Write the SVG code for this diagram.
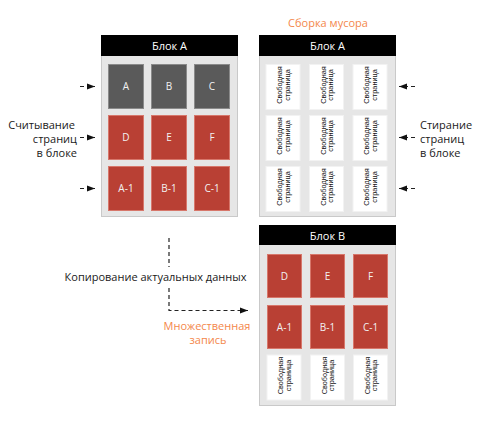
<svg xmlns="http://www.w3.org/2000/svg" width="482" height="425" viewBox="0 0 482 425">
<style>
.body{fill:#e6e6e6;stroke:#c9c9c9;stroke-width:1}
.hdr{fill:#000}
.htxt{font-family:"Open Sans",sans-serif;font-size:11px;fill:#fff;text-anchor:middle}
.gray{fill:#5a5a5a;stroke:#8a8a8a;stroke-width:1}
.red{fill:#b94034;stroke:#d7776b;stroke-width:1}
.free{fill:#fff;stroke:#f2f2f2;stroke-width:1}
.ctxt{font-family:"Open Sans",sans-serif;font-size:10px;fill:#f2f2f2;text-anchor:middle}
.ftxt{font-family:"Liberation Sans",Arial,sans-serif;font-size:7.3px;fill:#111;text-anchor:middle}
.lbl{font-family:"Open Sans",sans-serif;font-size:11px;fill:#1a1a1a}
.org{font-family:"Open Sans",sans-serif;font-size:11px;fill:#f4874b;text-anchor:middle}
.dash{fill:none;stroke:#222;stroke-width:1.2;stroke-dasharray:4,3}
</style>
<defs>
<marker id="ah" markerUnits="userSpaceOnUse" markerWidth="8" markerHeight="8" viewBox="0 0 8 8" refX="8" refY="4" orient="auto">
<path d="M0,1 L8,4 L0,7 Z" fill="#111"/>
</marker>
<g id="fp">
<rect class="free" x="-17" y="-22.5" width="34" height="45"/>
<g transform="rotate(-90)">
<text class="ftxt" x="2" y="-1">Свободная</text>
<text class="ftxt" x="2" y="6.5">страница</text>
</g>
</g>
</defs>

<g id="blockA-left">
<rect class="body" x="101.5" y="35.5" width="136" height="181"/>
<rect class="hdr" x="101" y="35" width="137" height="21"/>
<text class="htxt" x="169.5" y="50">Блок А</text>
<rect class="gray" x="108.5" y="64.5" width="35" height="44"/>
<rect class="gray" x="151.5" y="64.5" width="35" height="44"/>
<rect class="gray" x="194.5" y="64.5" width="35" height="44"/>
<rect class="red" x="108.5" y="115.5" width="35" height="44"/>
<rect class="red" x="151.5" y="115.5" width="35" height="44"/>
<rect class="red" x="194.5" y="115.5" width="35" height="44"/>
<rect class="red" x="108.5" y="166.5" width="35" height="44"/>
<rect class="red" x="151.5" y="166.5" width="35" height="44"/>
<rect class="red" x="194.5" y="166.5" width="35" height="44"/>
<text class="ctxt" x="126" y="90">A</text>
<text class="ctxt" x="169" y="90">B</text>
<text class="ctxt" x="212" y="90">C</text>
<text class="ctxt" x="126" y="141">D</text>
<text class="ctxt" x="169" y="141">E</text>
<text class="ctxt" x="212" y="141">F</text>
<text class="ctxt" x="126" y="192">A-1</text>
<text class="ctxt" x="169" y="192">B-1</text>
<text class="ctxt" x="212" y="192">C-1</text>
</g>

<g id="blockA-right">
<rect class="body" x="259.5" y="35.5" width="136" height="181"/>
<rect class="hdr" x="259" y="35" width="137" height="21"/>
<text class="htxt" x="327.5" y="50">Блок А</text>
<use href="#fp" x="283" y="87"/>
<use href="#fp" x="326.5" y="87"/>
<use href="#fp" x="370" y="87"/>
<use href="#fp" x="283" y="138"/>
<use href="#fp" x="326.5" y="138"/>
<use href="#fp" x="370" y="138"/>
<use href="#fp" x="283" y="189"/>
<use href="#fp" x="326.5" y="189"/>
<use href="#fp" x="370" y="189"/>
</g>

<g id="blockB">
<rect class="body" x="259.5" y="225.5" width="136" height="180"/>
<rect class="hdr" x="259" y="225" width="137" height="20"/>
<text class="htxt" x="327.5" y="239.5">Блок В</text>
<rect class="red" x="267.5" y="254.5" width="34" height="43"/>
<rect class="red" x="310.5" y="254.5" width="34" height="43"/>
<rect class="red" x="353.5" y="254.5" width="34" height="43"/>
<rect class="red" x="267.5" y="305.5" width="34" height="43"/>
<rect class="red" x="310.5" y="305.5" width="34" height="43"/>
<rect class="red" x="353.5" y="305.5" width="34" height="43"/>
<text class="ctxt" x="284.5" y="280">D</text>
<text class="ctxt" x="327.5" y="280">E</text>
<text class="ctxt" x="370.5" y="280">F</text>
<text class="ctxt" x="284.5" y="331">A-1</text>
<text class="ctxt" x="327.5" y="331">B-1</text>
<text class="ctxt" x="370.5" y="331">C-1</text>
<use href="#fp" x="284" y="377.5"/>
<use href="#fp" x="327.5" y="377.5"/>
<use href="#fp" x="370.5" y="377.5"/>
</g>

<g id="labels">
<text class="org" x="328" y="27">Сборка мусора</text>
<text class="lbl" text-anchor="end" x="75" y="128.5">Считывание</text>
<text class="lbl" text-anchor="end" x="77" y="142.5">страниц</text>
<text class="lbl" text-anchor="end" x="77" y="156.5">в блоке</text>
<text class="lbl" x="420" y="128.5">Стирание</text>
<text class="lbl" x="420" y="142.5">страниц</text>
<text class="lbl" x="420" y="156.5">в блоке</text>
<text class="lbl" text-anchor="middle" x="155.5" y="281">Копирование актуальных данных</text>
<text class="org" x="207" y="329.5">Множественная</text>
<text class="org" x="208" y="344">запись</text>
</g>

<g id="connectors">
<path class="dash" d="M80,86.5 H95" marker-end="url(#ah)"/>
<path class="dash" d="M80,137.5 H95" marker-end="url(#ah)"/>
<path class="dash" d="M80,188.5 H95" marker-end="url(#ah)"/>
<path class="dash" d="M415,86.5 H399" marker-end="url(#ah)"/>
<path class="dash" d="M415,137.5 H399" marker-end="url(#ah)"/>
<path class="dash" d="M415,188.5 H399" marker-end="url(#ah)"/>
<path class="dash" d="M169,238 V267"/>
<path class="dash" d="M169,288 V310.5 H248" marker-end="url(#ah)"/>
</g>
</svg>
